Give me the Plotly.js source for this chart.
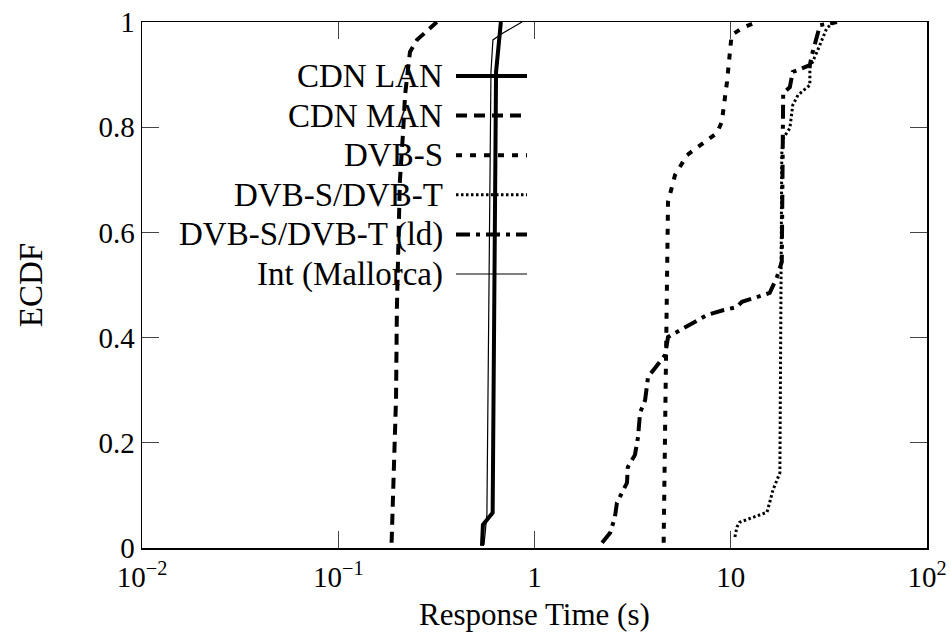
<!DOCTYPE html>
<html>
<head>
<meta charset="utf-8">
<script src="https://cdn.plot.ly/plotly-3.0.1.min.js"></script>
<style>html,body{margin:0;padding:0;background:#fff;}#chart{width:951px;height:642px;}</style>
</head>
<body>
<div id="chart"></div>
<script>
// Series names
const seriesNames = ["CDN LAN", "CDN MAN", "DVB-S", "DVB-S/DVB-T", "DVB-S/DVB-T (ld)", "Int (Mallorca)"];

// Response times (s) and ECDF values
const cdnLanX = [0.540, 0.546, 0.612, 0.637, 0.674];
const cdnLanY = [0.004, 0.044, 0.067, 0.905, 1.0];

const cdnManX = [0.187, 0.197, 0.199, 0.206, 0.214, 0.219, 0.232, 0.252, 0.318];
const cdnManY = [0.01, 0.285, 0.456, 0.696, 0.791, 0.861, 0.943, 0.966, 1.0];

const dvbsX = [4.55, 4.65, 4.79, 5.2, 5.99, 8.5, 9.0, 9.57, 10.1, 11.5, 13.6];
const dvbsY = [0.01, 0.319, 0.658, 0.709, 0.747, 0.789, 0.810, 0.886, 0.975, 0.989, 1.0];

const dvbstX = [10.5, 10.76, 11.1, 15.3, 15.8, 16.4, 17.8, 18.2, 18.5, 20.0, 20.7, 22.0, 25.3, 25.3, 27.5, 30.9, 34.0];
const dvbstY = [0.021, 0.040, 0.049, 0.068, 0.087, 0.110, 0.143, 0.75, 0.779, 0.798, 0.842, 0.861, 0.880, 0.913, 0.943, 0.989, 1.0];

const ldX = [2.21, 2.43, 2.57, 2.63, 2.96, 2.99, 3.25, 3.37, 3.45, 3.66, 3.79, 4.63, 4.79, 5.51, 7.57, 9.13, 10.76, 11.4, 15.8, 17.2, 18.2, 18.5, 20.0, 20.7, 25.3, 25.9, 27.8, 28.5, 34.8];
const ldY = [0.01, 0.029, 0.059, 0.086, 0.124, 0.154, 0.177, 0.211, 0.257, 0.281, 0.325, 0.367, 0.401, 0.414, 0.443, 0.452, 0.458, 0.468, 0.485, 0.515, 0.544, 0.865, 0.876, 0.905, 0.918, 0.937, 0.975, 0.994, 1.0];

const intX = [0.553, 0.572, 0.600, 0.614, 0.691, 0.864];
const intY = [0.006, 0.063, 0.905, 0.966, 0.979, 1.0];

// Axis ticks
const xTickVals = [0.01, 0.1, 1, 10, 100];
const xTickText = ["10<sup>−2</sup>", "10<sup>−1</sup>", "1", "10", "10<sup>2</sup>"];
const yTickVals = [0, 0.2, 0.4, 0.6, 0.8, 1];
const yTickText = ["0", "0.2", "0.4", "0.6", "0.8", "1"];

const styles = [
  {width: 4, dash: "solid"},
  {width: 4, dash: "11px,7px"},
  {width: 4, dash: "6px,8px"},
  {width: 3, dash: "2.5px,2.5px"},
  {width: 4, dash: "14px,6px,4px,6px"},
  {width: 1.2, dash: "solid"}
];
const xs = [cdnLanX, cdnManX, dvbsX, dvbstX, ldX, intX];
const ys = [cdnLanY, cdnManY, dvbsY, dvbstY, ldY, intY];

const FONT = "'Liberation Serif', 'Times New Roman', serif";
const FS = 33;

const traces = seriesNames.map((n, i) => ({
  type: "scatter", mode: "lines", name: n,
  x: xs[i], y: ys[i],
  line: {color: "#000", width: styles[i].width, dash: styles[i].dash},
  showlegend: false, hoverinfo: "skip"
}));

// Manual legend (text left of the sample line)
const W = 785, H = 526, L = 142, T = 22;
const shapes = [], annotations = [];
seriesNames.forEach((n, i) => {
  const py = 76 + 39.6 * i;
  const yp = (T + H - py) / H;
  shapes.push({type: "line", xref: "paper", yref: "paper",
    x0: (456 - L) / W, x1: (527 - L) / W, y0: yp, y1: yp,
    line: {color: "#000", width: styles[i].width, dash: styles[i].dash}});
  annotations.push({xref: "paper", yref: "paper", x: (445 - L) / W, y: yp,
    xanchor: "right", yanchor: "middle", showarrow: false, text: n,
    font: {family: FONT, size: FS, color: "#000"}});
});
// x-axis title
annotations.push({xref: "paper", yref: "paper", x: 0.5, y: (T + H - 614) / H,
  xanchor: "center", yanchor: "middle", showarrow: false, text: "Response Time (s)",
  font: {family: FONT, size: 31, color: "#000"}});

const axisCommon = {
  showgrid: false, zeroline: false, showline: true, linecolor: "#000", linewidth: 1.5,
  mirror: "ticks", ticks: "inside", ticklen: 17, tickwidth: 1, tickcolor: "#444",
  tickfont: {family: FONT, size: 29, color: "#000"}
};

const layout = {
  width: 951, height: 642,
  margin: {l: 142, r: 24, t: 22, b: 94},
  paper_bgcolor: "#fff", plot_bgcolor: "#fff",
  xaxis: Object.assign({}, axisCommon, {
    type: "log", range: [-2, 2], tickmode: "array", tickvals: xTickVals, ticktext: xTickText,
    automargin: false, ticklabelstandoff: 3
  }),
  yaxis: Object.assign({}, axisCommon, {
    range: [0, 1], tickmode: "array", tickvals: yTickVals, ticktext: yTickText,
    automargin: false,
    title: {text: "ECDF", font: {family: FONT, size: FS, color: "#000"}, standoff: 46}
  }),
  shapes: shapes, annotations: annotations, showlegend: false
};

Plotly.newPlot("chart", traces, layout, {staticPlot: true, displayModeBar: false});
</script>
</body>
</html>
